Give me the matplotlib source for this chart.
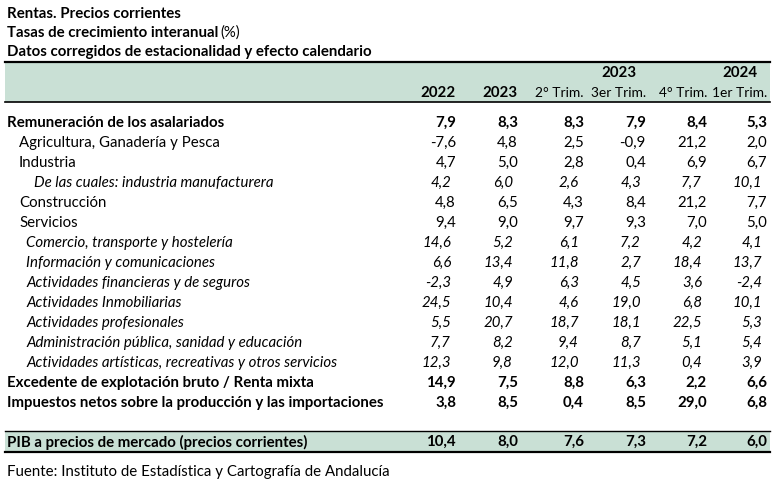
import matplotlib.pyplot as plt
from matplotlib.patches import Rectangle

plt.rcParams['font.family'] = ['Lato', 'DejaVu Sans']

# Table content
labels = [
    "Remuneración de los asalariados",
    "Agricultura, Ganadería y Pesca",
    "Industria",
    "De las cuales: industria manufacturera",
    "Construcción",
    "Servicios",
    "Comercio, transporte y hostelería",
    "Información y comunicaciones",
    "Actividades financieras y de seguros",
    "Actividades Inmobiliarias",
    "Actividades profesionales",
    "Administración pública, sanidad y educación",
    "Actividades artísticas, recreativas y otros servicios",
    "Excedente de explotación bruto / Renta mixta",
    "Impuestos netos sobre la producción y las importaciones",
]
# style: b = bold, n = normal, i = italic ; indent level
styles = ["b", "n", "n", "i", "n", "n", "i", "i", "i", "i", "i", "i", "i", "b", "b"]
indents = [0, 1, 1, 3, 1, 1, 2, 2, 2, 2, 2, 2, 2, 0, 0]

values = [
    ["7,9", "8,3", "8,3", "7,9", "8,4", "5,3"],
    ["-7,6", "4,8", "2,5", "-0,9", "21,2", "2,0"],
    ["4,7", "5,0", "2,8", "0,4", "6,9", "6,7"],
    ["4,2", "6,0", "2,6", "4,3", "7,7", "10,1"],
    ["4,8", "6,5", "4,3", "8,4", "21,2", "7,7"],
    ["9,4", "9,0", "9,7", "9,3", "7,0", "5,0"],
    ["14,6", "5,2", "6,1", "7,2", "4,2", "4,1"],
    ["6,6", "13,4", "11,8", "2,7", "18,4", "13,7"],
    ["-2,3", "4,9", "6,3", "4,5", "3,6", "-2,4"],
    ["24,5", "10,4", "4,6", "19,0", "6,8", "10,1"],
    ["5,5", "20,7", "18,7", "18,1", "22,5", "5,3"],
    ["7,7", "8,2", "9,4", "8,7", "5,1", "5,4"],
    ["12,3", "9,8", "12,0", "11,3", "0,4", "3,9"],
    ["14,9", "7,5", "8,8", "6,3", "2,2", "6,6"],
    ["3,8", "8,5", "0,4", "8,5", "29,0", "6,8"],
]
pib_label = "PIB a precios de mercado (precios corrientes)"
pib_values = ["10,4", "8,0", "7,6", "7,3", "7,2", "6,0"]

col_headers = ["2022", "2023", "2° Trim.", "3er Trim.", "4° Trim.", "1er Trim."]
header_bold = [True, True, False, False, False, False]

green = "#c9e0d5"
fs = 10.8

fig = plt.figure(figsize=(7.79, 4.88), dpi=100)
ax = fig.add_axes([0, 0, 1, 1])
ax.set_xlim(0, 779)
ax.set_ylim(488, 0)
ax.axis("off")

# titles
ax.text(7, 14, "Rentas. Precios corrientes", fontsize=fs, fontweight="bold", va="center")
t = ax.text(7, 33, "Tasas de crecimiento interanual", fontsize=fs, fontweight="bold", va="center")
fig.canvas.draw()
bb = t.get_window_extent()
ax.text(7 + bb.width + 2, 33, "(%)", fontsize=fs, va="center")
ax.text(7, 52, "Datos corregidos de estacionalidad y efecto calendario", fontsize=fs,
        fontweight="bold", va="center")

# header band
ax.add_patch(Rectangle((5, 62), 765, 40, facecolor=green, edgecolor="none"))
ax.plot([5, 770], [62, 62], color="black", lw=1.6)
ax.plot([5, 770], [102, 102], color="black", lw=1.2)

col_x = [456, 518, 584, 646, 707, 767]
ax.text(619, 73, "2023", fontsize=fs, fontweight="bold", ha="center", va="center")
ax.text(740, 73, "2024", fontsize=fs, fontweight="bold", ha="center", va="center")
for x, h, b in zip(col_x, col_headers, header_bold):
    if b:
        ax.text(x, 93, h, fontsize=fs, fontweight="bold", ha="right", va="center")
    else:
        ax.text(x, 93, h, fontsize=9.9, ha="right", va="center")

indent_x = {0: 7, 1: 19, 2: 26, 3: 34}
for i, (lab, st, ind, vals) in enumerate(zip(labels, styles, indents, values)):
    y = 123 + 20 * i
    kw = dict(fontsize=fs, va="center")
    if st == "b":
        kw["fontweight"] = "bold"
    elif st == "i":
        kw["fontstyle"] = "italic"
    ax.text(indent_x[ind], y, lab, **kw)
    shift = -5 if st == "i" else 0
    for x, v in zip(col_x, vals):
        ax.text(x + shift, y, v, ha="right", **kw)

# PIB row
ax.add_patch(Rectangle((5, 431), 765, 21, facecolor=green, edgecolor="none"))
ax.plot([5, 770], [431, 431], color="black", lw=1.0)
ax.plot([5, 770], [452, 452], color="black", lw=1.6)
ax.text(7, 442, pib_label, fontsize=fs, fontweight="bold", va="center")
for x, v in zip(col_x, pib_values):
    ax.text(x, 442, v, fontsize=fs, fontweight="bold", ha="right", va="center")

ax.text(7, 472, "Fuente: Instituto de Estadística y Cartografía de Andalucía", fontsize=fs, va="center")

fig.savefig("out.png", dpi=100)
